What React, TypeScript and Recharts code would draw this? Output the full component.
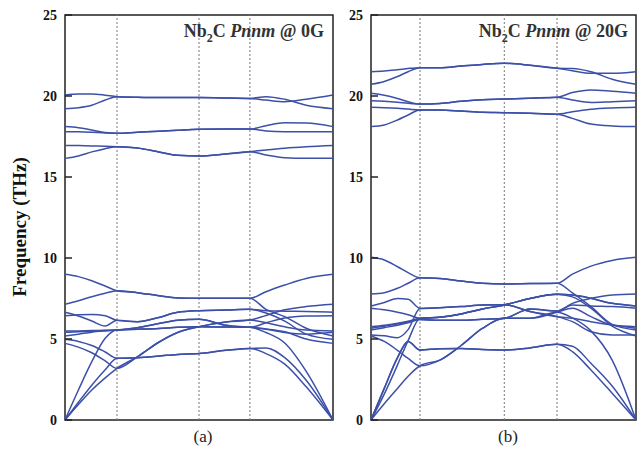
import { LineChart, Line, XAxis, YAxis, ReferenceLine, ReferenceArea } from "recharts";

// k-path sample positions (fraction of the panel width)
const kA = [0, 0.05, 0.1, 0.15, 0.194, 0.27, 0.35, 0.42, 0.5, 0.6, 0.69, 0.75, 0.82, 0.9, 1.0];
const kB = [0, 0.05, 0.1, 0.14, 0.185, 0.26, 0.34, 0.42, 0.503, 0.6, 0.702, 0.76, 0.83, 0.91, 1.0];

// high-symmetry point positions (dashed lines)
const symA = [0.194, 0.5, 0.69];
const symB = [0.185, 0.503, 0.702];

const yTicks = [0, 5, 10, 15, 20, 25];

// (a) 0G — upper optical branches (THz)
const highA = [
  [20.06, 20.12, 20.12, 20.05, 19.96, 19.92, 19.9, 19.9, 19.9, 19.88, 19.85, 19.75, 19.65, 19.8, 20.06],
  [19.22, 19.28, 19.43, 19.75, 19.96, 19.92, 19.9, 19.9, 19.9, 19.88, 19.85, 19.96, 19.8, 19.43, 19.22],
  [18.11, 18.04, 17.9, 17.75, 17.7, 17.76, 17.82, 17.88, 17.94, 17.96, 17.96, 18.17, 18.35, 18.33, 18.11],
  [17.8, 17.79, 17.76, 17.72, 17.7, 17.76, 17.82, 17.88, 17.94, 17.96, 17.96, 17.84, 17.8, 17.8, 17.8],
  [16.95, 16.94, 16.92, 16.9, 16.87, 16.79, 16.55, 16.34, 16.3, 16.42, 16.56, 16.67, 16.78, 16.87, 16.95],
  [16.15, 16.3, 16.55, 16.75, 16.87, 16.79, 16.55, 16.34, 16.3, 16.42, 16.56, 16.36, 16.19, 16.15, 16.15],
];

// (a) 0G — acoustic + lower optical branches
const lowA = [
  [8.99, 8.85, 8.6, 8.27, 7.98, 7.86, 7.67, 7.53, 7.51, 7.51, 7.51, 7.92, 8.33, 8.74, 8.99],
  [7.14, 7.36, 7.61, 7.82, 7.98, 7.86, 7.67, 7.53, 7.51, 7.51, 7.51, 6.83, 6.38, 5.66, 5.19],
  [6.65, 6.42, 6.11, 5.8, 6.15, 6.07, 6.33, 6.65, 6.75, 6.79, 6.83, 6.75, 6.72, 6.7, 6.65],
  [6.44, 6.5, 6.52, 6.44, 6.15, 6.07, 6.33, 6.65, 6.75, 6.79, 6.83, 6.6, 6.1, 5.3, 4.98],
  [5.49, 5.5, 5.52, 5.54, 5.56, 5.7, 5.95, 6.15, 6.22, 5.85, 5.72, 6.0, 6.3, 6.42, 6.44],
  [5.41, 5.44, 5.48, 5.52, 5.56, 5.7, 5.95, 6.15, 6.22, 5.85, 5.72, 5.6, 5.4, 5.3, 5.41],
  [5.19, 5.3, 5.42, 5.5, 5.56, 5.6, 5.65, 5.72, 5.76, 5.74, 5.72, 5.62, 5.45, 5.0, 4.73],
  [0, 1.85, 3.6, 5.05, 5.56, 5.6, 5.65, 5.72, 5.76, 5.74, 5.72, 5.4, 4.75, 3.0, 0],
  [4.73, 4.5, 4.15, 3.65, 3.19, 3.9, 4.8, 5.4, 5.76, 6.05, 6.17, 6.45, 6.8, 7.0, 7.14],
  [0, 0.95, 1.85, 2.6, 3.19, 3.9, 4.8, 5.4, 5.76, 6.05, 6.17, 6.0, 5.75, 5.55, 5.49],
  [4.98, 4.85, 4.6, 4.2, 3.81, 3.85, 3.95, 4.05, 4.1, 4.3, 4.42, 4.45, 3.85, 2.45, 0],
  [0, 1.1, 2.15, 3.1, 3.81, 3.85, 3.95, 4.05, 4.1, 4.3, 4.42, 4.1, 3.45, 2.05, 0],
];

// (b) 20G — upper optical branches
const highB = [
  [21.5, 21.55, 21.62, 21.7, 21.75, 21.75, 21.85, 21.95, 22.02, 21.9, 21.71, 21.7, 21.5, 21.03, 20.72],
  [20.72, 20.9, 21.2, 21.5, 21.75, 21.75, 21.85, 21.95, 22.02, 21.9, 21.71, 21.56, 21.4, 21.4, 21.5],
  [20.17, 20.05, 19.85, 19.65, 19.5, 19.54, 19.67, 19.77, 19.81, 19.86, 19.92, 20.21, 20.37, 20.29, 20.17],
  [19.71, 19.68, 19.62, 19.55, 19.5, 19.54, 19.67, 19.77, 19.81, 19.86, 19.92, 19.75, 19.6, 19.65, 19.71],
  [19.3, 19.28, 19.24, 19.19, 19.14, 19.14, 19.07, 18.99, 18.97, 18.93, 18.87, 19.03, 19.18, 19.26, 19.3],
  [18.11, 18.21, 18.52, 18.83, 19.14, 19.14, 19.07, 18.99, 18.97, 18.93, 18.87, 18.62, 18.27, 18.15, 18.11],
];

// (b) 20G — acoustic + lower optical branches
const lowB = [
  [10.04, 9.88, 9.46, 9.1, 8.78, 8.74, 8.58, 8.44, 8.4, 8.42, 8.44, 9.0, 9.5, 9.85, 10.04],
  [7.78, 7.86, 8.13, 8.44, 8.78, 8.74, 8.58, 8.44, 8.4, 8.42, 8.44, 7.85, 7.0, 5.9, 5.56],
  [7.04, 7.25, 7.5, 7.45, 6.89, 6.93, 7.0, 7.1, 7.12, 6.7, 6.38, 6.28, 6.07, 5.86, 5.66],
  [5.25, 5.2, 5.08, 5.58, 6.89, 6.93, 7.0, 7.1, 7.12, 6.7, 6.38, 6.07, 5.45, 5.25, 5.25],
  [0, 1.6, 3.4, 4.9, 6.28, 6.35, 6.55, 6.85, 7.1, 7.5, 7.76, 7.71, 7.51, 7.2, 7.04],
  [6.9, 6.8, 6.65, 6.5, 6.28, 6.35, 6.55, 6.85, 7.1, 7.5, 7.76, 7.6, 6.9, 5.8, 5.19],
  [5.76, 5.85, 5.98, 6.1, 6.28, 6.35, 6.55, 6.85, 7.1, 7.5, 7.76, 7.71, 7.51, 7.2, 7.04],
  [5.66, 5.78, 5.92, 6.05, 6.2, 6.15, 6.15, 6.22, 6.28, 6.85, 6.73, 7.2, 7.51, 7.72, 7.78],
  [5.56, 5.7, 5.85, 6.0, 6.2, 6.15, 6.15, 6.22, 6.28, 6.85, 6.73, 7.1, 7.04, 7.0, 6.9],
  [5.19, 4.85, 4.3, 3.8, 3.35, 3.7, 4.6, 5.65, 6.28, 6.28, 6.65, 6.9, 6.38, 5.86, 5.76],
  [0, 1.0, 1.95, 2.7, 3.35, 3.7, 4.6, 5.65, 6.28, 6.28, 6.65, 6.3, 5.5, 3.7, 0],
  [0, 1.95, 3.85, 4.85, 4.32, 4.4, 4.42, 4.35, 4.32, 4.45, 4.67, 4.55, 3.5, 2.1, 0],
  [0, 1.95, 3.85, 4.85, 4.32, 4.4, 4.42, 4.35, 4.32, 4.45, 4.67, 4.22, 3.09, 1.65, 0],
];

const BAND = "#3c50a8";
const SERIF = '"Liberation Serif", "Times New Roman", serif';

function buildRows(ks: number[], bands: number[][]) {
  return ks.map((k, i) => {
    const row: Record<string, number> = { k };
    bands.forEach((b, j) => (row["b" + j] = b[i]));
    return row;
  });
}

function Panel({ ks, bands, sym, width, axisW, right }: {
  ks: number[]; bands: number[][]; sym: number[]; width: number; axisW: number; right: number;
}) {
  const rows = buildRows(ks, bands);
  return (
    <LineChart width={width} height={449} data={rows} margin={{ top: 15, right, bottom: 29, left: 0 }}>
      <XAxis dataKey="k" type="number" domain={[0, 1]} hide />
      <YAxis
        type="number"
        domain={[0, 25]}
        ticks={yTicks}
        width={axisW}
        axisLine={false}
        tickSize={-7}
        tickMargin={15}
        tickLine={{ stroke: "#222", strokeWidth: 1.5 }}
        tick={{ fill: "#111", fontSize: 14, fontWeight: 700, fontFamily: SERIF }}
        allowDataOverflow
      />
      {sym.map((x) => (
        <ReferenceLine key={x} x={x} stroke="#777" strokeDasharray="2 2" strokeWidth={1} />
      ))}
      {bands.map((_, j) => (
        <Line
          key={j}
          dataKey={"b" + j}
          type="monotone"
          stroke={BAND}
          strokeWidth={1.5}
          dot={false}
          isAnimationActive={false}
        />
      ))}
      <ReferenceArea x1={0} x2={1} y1={0} y2={25} fill="none" stroke="#222" strokeWidth={1.5} />
    </LineChart>
  );
}

const titleStyle: React.CSSProperties = {
  position: "absolute",
  fontFamily: SERIF,
  fontWeight: 700,
  fontSize: 18,
  color: "#333",
  whiteSpace: "nowrap",
  lineHeight: "20px",
};

const subLabel: React.CSSProperties = {
  position: "absolute",
  top: 427,
  width: 40,
  textAlign: "center",
  fontFamily: SERIF,
  fontSize: 17,
  color: "#222",
};

export default function App() {
  return (
    <div style={{ position: "absolute", left: 0, top: 0, width: 637, height: 449, background: "#fff", overflow: "hidden" }}>
      <div style={{ position: "absolute", left: 0, top: 0 }}>
        <Panel ks={kA} bands={[...highA, ...lowA]} sym={symA} width={340} axisW={65} right={7} />
      </div>
      <div style={{ position: "absolute", left: 330, top: 0 }}>
        <Panel ks={kB} bands={[...highB, ...lowB]} sym={symB} width={307} axisW={41} right={1} />
      </div>

      <div style={{ ...titleStyle, right: 637 - 324, top: 21 }}>
        Nb<sub style={{ fontSize: 12 }}>2</sub>C <i>Pnnm</i> @ 0G
      </div>
      <div style={{ ...titleStyle, right: 637 - 628, top: 21 }}>
        Nb<sub style={{ fontSize: 12 }}>2</sub>C <i>Pnnm</i> @ 20G
      </div>

      <div
        style={{
          position: "absolute",
          left: 20 - 100,
          top: 227 - 11,
          width: 200,
          height: 22,
          textAlign: "center",
          transform: "rotate(-90deg)",
          fontFamily: SERIF,
          fontWeight: 700,
          fontSize: 19,
          color: "#111",
          lineHeight: "22px",
        }}
      >
        Frequency (THz)
      </div>

      <div style={{ ...subLabel, left: 203 - 20 }}>(a)</div>
      <div style={{ ...subLabel, left: 508 - 20 }}>(b)</div>
    </div>
  );
}
